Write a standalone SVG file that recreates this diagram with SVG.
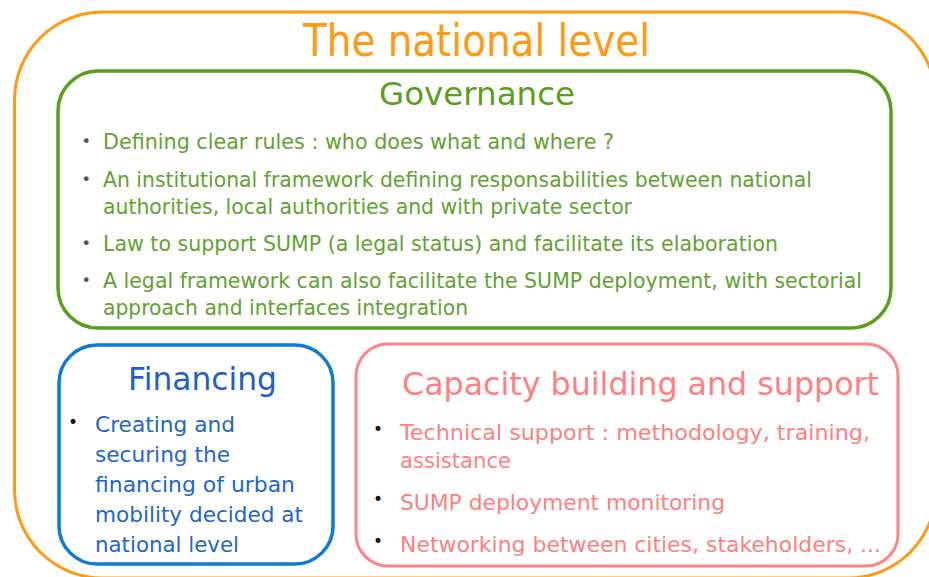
<svg xmlns="http://www.w3.org/2000/svg" width="929" height="577" viewBox="0 0 929 577">
<style>
text{font-family:"DejaVu Sans","Verdana","Liberation Sans",sans-serif}
.box{fill:none}
.org{stroke:#FF9A12;stroke-width:3}
.grn{stroke:#5A9E1E;stroke-width:3.5}
.blu{stroke:#0F7AD0;stroke-width:3.5}
.pnk{stroke:#FF8585;stroke-width:3}
.t-org{fill:#FF9A12;font-size:45px}
.h{font-size:32px}
.h-grn{fill:#5A9E1E}
.h-blu{fill:#1E5FC8}
.h-pnk{fill:#FF8080}
.b-grn{fill:#62A232;font-size:20.5px}
.b-blu{fill:#2466C8;font-size:22px}
.b-pnk{fill:#FF8080;font-size:22px}
.bul{font-size:17px;fill:#111}
.bul-g{font-size:16px;fill:#555}
</style>
<rect width="929" height="577" fill="#fff"/>
<g id="national-level">
<rect class="box org" x="14.5" y="12" width="921.5" height="566" rx="88" ry="88"/>
<text class="t-org" x="303" y="56" textLength="347" lengthAdjust="spacingAndGlyphs">The national level</text>
</g>
<g id="governance">
<rect class="box grn" x="58" y="71" width="833" height="257" rx="40" ry="40"/>
<text class="h h-grn" x="379" y="105" textLength="196" lengthAdjust="spacingAndGlyphs">Governance</text>
<text class="bul-g" x="81.5" y="147">•</text>
<text class="b-grn" x="103" y="149" textLength="511" lengthAdjust="spacingAndGlyphs">Defining clear rules : who does what and where ?</text>
<text class="bul-g" x="81.5" y="185">•</text>
<text class="b-grn" x="103" y="187" textLength="709" lengthAdjust="spacingAndGlyphs">An institutional framework defining responsabilities between national</text>
<text class="b-grn" x="103" y="214" textLength="529" lengthAdjust="spacingAndGlyphs">authorities, local authorities and with private sector</text>
<text class="bul-g" x="81.5" y="249">•</text>
<text class="b-grn" x="103" y="251" textLength="675" lengthAdjust="spacingAndGlyphs">Law to support SUMP (a legal status) and facilitate its elaboration</text>
<text class="bul-g" x="81.5" y="286">•</text>
<text class="b-grn" x="103" y="288" textLength="759" lengthAdjust="spacingAndGlyphs">A legal framework can also facilitate the SUMP deployment, with sectorial</text>
<text class="b-grn" x="103" y="315" textLength="365" lengthAdjust="spacingAndGlyphs">approach and interfaces integration</text>
</g>
<g id="financing">
<rect class="box blu" x="59" y="345" width="274" height="219" rx="38" ry="38"/>
<text class="h h-blu" x="128" y="390" textLength="149" lengthAdjust="spacingAndGlyphs">Financing</text>
<text class="bul" x="68" y="428">•</text>
<text class="b-blu" x="95" y="432" textLength="140" lengthAdjust="spacingAndGlyphs">Creating and</text>
<text class="b-blu" x="95" y="462" textLength="135" lengthAdjust="spacingAndGlyphs">securing the</text>
<text class="b-blu" x="95" y="492" textLength="200" lengthAdjust="spacingAndGlyphs">financing of urban</text>
<text class="b-blu" x="95" y="522" textLength="208" lengthAdjust="spacingAndGlyphs">mobility decided at</text>
<text class="b-blu" x="95" y="552" textLength="144" lengthAdjust="spacingAndGlyphs">national level</text>
</g>
<g id="capacity-building">
<rect class="box pnk" x="356" y="344" width="542" height="222" rx="32" ry="32"/>
<text class="h h-pnk" x="402" y="395" textLength="477" lengthAdjust="spacingAndGlyphs">Capacity building and support</text>
<text class="bul" x="373" y="435">•</text>
<text class="b-pnk" x="400" y="440" textLength="470" lengthAdjust="spacingAndGlyphs">Technical support : methodology, training,</text>
<text class="b-pnk" x="400" y="468" textLength="111" lengthAdjust="spacingAndGlyphs">assistance</text>
<text class="bul" x="373" y="505">•</text>
<text class="b-pnk" x="400" y="510" textLength="325" lengthAdjust="spacingAndGlyphs">SUMP deployment monitoring</text>
<text class="bul" x="373" y="547">•</text>
<text class="b-pnk" x="400" y="552" textLength="481" lengthAdjust="spacingAndGlyphs">Networking between cities, stakeholders, ...</text>
</g>
<g id="connectors"></g>
</svg>
